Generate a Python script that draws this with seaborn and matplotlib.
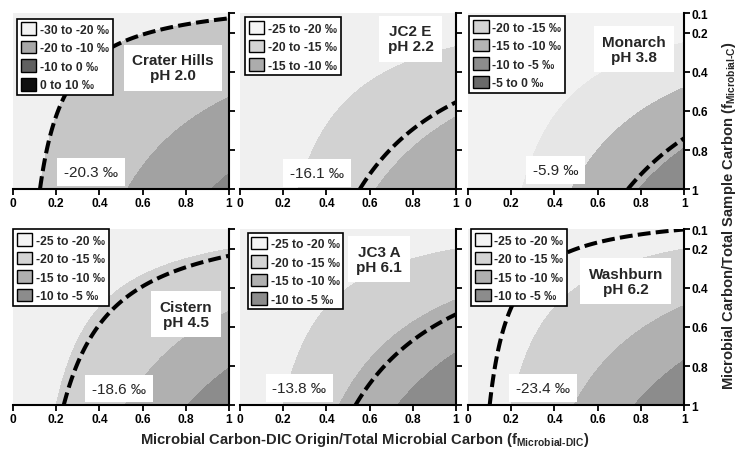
import numpy as np
import matplotlib
matplotlib.use('Agg')
import matplotlib.pyplot as plt
import seaborn as sns
from matplotlib.patches import Patch

# data
sites = ['Crater Hills', 'JC2 E', 'Monarch', 'Cistern', 'JC3 A', 'Washburn']
ph_values = ['2.0', '2.2', '3.8', '4.5', '6.1', '6.2']
measured = ['-20.3', '-16.1', '-5.9', '-18.6', '-13.8', '-23.4']

# contour boundaries, expressed as f_Microbial-DIC * f_Microbial-C
bounds = [
    [0.125, 0.53, 0.92],
    [0.27, 0.63],
    [0.25, 0.48, 0.79],
    [0.20, 0.52, 0.81],
    [0.20, 0.46, 0.73],
    [0.20, 0.49, 0.77],
]
# position of the measured value (dashed line)
measured_frac = [0.125, 0.555, 0.74, 0.235, 0.535, 0.10]

legend_labels = [
    ['-30 to -20 ‰', '-20 to -10 ‰', '-10 to 0 ‰', '0 to 10 ‰'],
    ['-25 to -20 ‰', '-20 to -15 ‰', '-15 to -10 ‰'],
    ['-20 to -15 ‰', '-15 to -10 ‰', '-10 to -5 ‰', '-5 to 0 ‰'],
    ['-25 to -20 ‰', '-20 to -15 ‰', '-15 to -10 ‰', '-10 to -5 ‰'],
    ['-25 to -20 ‰', '-20 to -15 ‰', '-15 to -10 ‰', '-10 to -5 ‰'],
    ['-25 to -20 ‰', '-20 to -15 ‰', '-15 to -10 ‰', '-10 to -5 ‰'],
]

fill_colors = [
    ['#f0f0f0', '#c6c6c6', '#a2a2a2', '#878787'],
    ['#f0f0f0', '#d2d2d2', '#b0b0b0'],
    ['#f2f2f2', '#e6e6e6', '#b4b4b4', '#8c8c8c'],
    ['#f0f0f0', '#d0d0d0', '#b0b0b0', '#8c8c8c'],
    ['#f0f0f0', '#d0d0d0', '#b0b0b0', '#8c8c8c'],
    ['#f0f0f0', '#d0d0d0', '#b0b0b0', '#8c8c8c'],
]
legend_colors = [
    ['#f2f2f2', '#a8a8a8', '#606060', '#101010'],
    ['#f4f4f4', '#d4d4d4', '#acacac'],
    ['#d4d4d4', '#b4b4b4', '#8c8c8c', '#6a6a6a'],
    ['#f4f4f4', '#d4d4d4', '#b0b0b0', '#8c8c8c'],
    ['#f4f4f4', '#d4d4d4', '#b0b0b0', '#8c8c8c'],
    ['#f4f4f4', '#d4d4d4', '#b0b0b0', '#8c8c8c'],
]

x_ticks = [0, 0.2, 0.4, 0.6, 0.8, 1]
x_ticklabels = ['0', '0.2', '0.4', '0.6', '0.8', '1']
y_ticks = [0.1, 0.2, 0.4, 0.6, 0.8, 1]
y_ticklabels = ['0.1', '0.2', '0.4', '0.6', '0.8', '1']

# layout (axes fractions)
name_pos = [(0.74, 0.69), (0.79, 0.855), (0.768, 0.795),
            (0.80, 0.517), (0.643, 0.83), (0.73, 0.705)]
value_pos = [(0.36, 0.097), (0.356, 0.09), (0.406, 0.109),
             (0.49, 0.094), (0.275, 0.097), (0.347, 0.097)]
legend_pos = [(0.019, 0.971), (0.023, 0.977), (0.006, 0.983),
              (0.0, 1.0), (0.035, 0.98), (0.015, 1.0)]

sns.set_theme(style='white')
plt.rcParams['font.family'] = ['Liberation Sans', 'DejaVu Sans']
plt.rcParams['mathtext.fontset'] = 'custom'
plt.rcParams['mathtext.rm'] = 'Liberation Sans:bold'
plt.rcParams['mathtext.bf'] = 'Liberation Sans:bold'

fig = plt.figure(figsize=(7.43, 4.56), dpi=100)

col_left = [0.0175, 0.323, 0.630]
row_bottom = [0.5833, 0.1096]
ax_w, ax_h = 0.2907, 0.3850

gx = np.linspace(0, 1, 400)
gy = np.linspace(0.1, 1, 400)
X, Y = np.meshgrid(gx, gy)
Z = X * Y

for i, site in enumerate(sites):
    r, c = divmod(i, 3)
    ax = fig.add_axes([col_left[c], row_bottom[r], ax_w, ax_h])

    levels = [0] + bounds[i] + [1.01]
    ax.contourf(X, Y, Z, levels=levels, colors=fill_colors[i])
    ax.contour(X, Y, Z, levels=[measured_frac[i]], colors='black',
               linewidths=2.9, linestyles=[(0, (3.2, 1.3))])

    ax.set_xlim(0, 1)
    ax.set_ylim(1, 0.1)
    ax.spines['left'].set_visible(False)
    ax.spines['top'].set_visible(False)
    for s in ['bottom', 'right']:
        ax.spines[s].set_visible(True)
        ax.spines[s].set_color('black')
        ax.spines[s].set_linewidth(1.5)

    ax.set_xticks(x_ticks)
    ax.set_xticklabels(x_ticklabels, fontweight='bold')
    ax.set_yticks(y_ticks)
    ax.set_yticklabels(y_ticklabels, fontweight='bold')
    ax.tick_params(direction='out', length=4, width=1.3, labelsize=8.6,
                   pad=1.5, colors='black')
    ax.tick_params(axis='x', bottom=True, top=False)
    ax.tick_params(axis='y', left=False, labelleft=False, right=True,
                   labelright=(c == 2))

    ax.text(*name_pos[i], f'{site}\npH {ph_values[i]}', transform=ax.transAxes,
            ha='center', va='center', fontsize=11, fontweight='bold',
            linespacing=1.1, zorder=5,
            bbox=dict(boxstyle='square,pad=0.55', facecolor='white', edgecolor='none'))
    ax.text(*value_pos[i], f'{measured[i]} ‰', transform=ax.transAxes,
            ha='center', va='center', fontsize=11, zorder=5,
            bbox=dict(boxstyle='square,pad=0.45', facecolor='white', edgecolor='none'))

    handles = [Patch(facecolor=col, edgecolor='black', linewidth=1.0)
               for col in legend_colors[i]]
    leg = ax.legend(handles, legend_labels[i], loc='upper left',
                    bbox_to_anchor=legend_pos[i], borderaxespad=0,
                    prop={'weight': 'bold', 'size': 8.7}, fancybox=False,
                    framealpha=1, edgecolor='black', handlelength=1.3,
                    handleheight=1.25, handletextpad=0.3, labelspacing=0.42,
                    borderpad=0.3)
    leg.get_frame().set_linewidth(1.2)
    leg.set_zorder(6)

fig.text(0.491, 0.035,
         r'Microbial Carbon-DIC Origin/Total Microbial Carbon (f$_{\mathrm{Microbial\text{-}DIC}}$)',
         ha='center', va='center', fontsize=10.6, fontweight='bold')
fig.text(0.981, 0.528,
         r'Microbial Carbon/Total Sample Carbon (f$_{\mathrm{Microbial\text{-}C}}$)',
         ha='center', va='center', fontsize=10.6, fontweight='bold', rotation=90)

fig.savefig('out.png', dpi=100)
